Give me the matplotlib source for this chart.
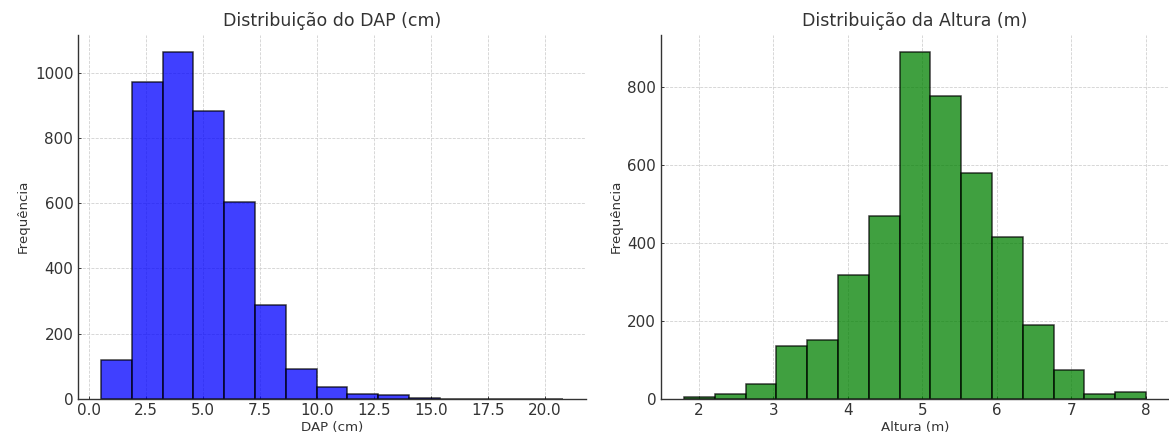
import numpy as np
import matplotlib
matplotlib.use("Agg")
from matplotlib import pyplot as plt

# DAP histogram (cm): 15 bins
dap_edges = np.linspace(0.55, 20.8, 16)
dap_counts = [120, 975, 1065, 883, 603, 288, 90, 35, 15, 10, 2, 0, 0, 0, 0]

# Altura histogram (m): 15 bins
alt_edges = np.linspace(1.8, 8.0, 16)
alt_counts = [5, 12, 38, 135, 150, 318, 470, 890, 778, 580, 415, 190, 73, 12, 17]


def draw_hist(ax, edges, counts, color, title, xlabel):
    centers = (edges[:-1] + edges[1:]) / 2
    ax.hist(centers, bins=edges, weights=counts, color=color, alpha=0.75,
            edgecolor="black", linewidth=1.3)
    ax.set_title(title, fontsize=15, color="#333333", pad=8)
    ax.set_xlabel(xlabel, fontsize=11.5, color="#333333", labelpad=2)
    ax.set_ylabel("Frequência", fontsize=11.5, color="#333333")
    ax.grid(True, linestyle="--", color="#d0d0d0", linewidth=0.7)
    ax.set_axisbelow(True)
    for side in ["top", "right"]:
        ax.spines[side].set_visible(False)
    for side in ["left", "bottom"]:
        ax.spines[side].set_color("#333333")
        ax.spines[side].set_linewidth(1.2)
    ax.tick_params(direction="in", length=3, labelsize=13, colors="#333333", pad=4)


fig, (ax1, ax2) = plt.subplots(1, 2, figsize=(14, 437 / 83.5), dpi=83.5)
draw_hist(ax1, dap_edges, dap_counts, "blue", "Distribuição do DAP (cm)", "DAP (cm)")
draw_hist(ax2, alt_edges, alt_counts, "green", "Distribuição da Altura (m)", "Altura (m)")
fig.subplots_adjust(left=0.0667, right=1.0, bottom=0.088, top=0.92, wspace=0.147)
fig.savefig("out.png", dpi=83.5)
